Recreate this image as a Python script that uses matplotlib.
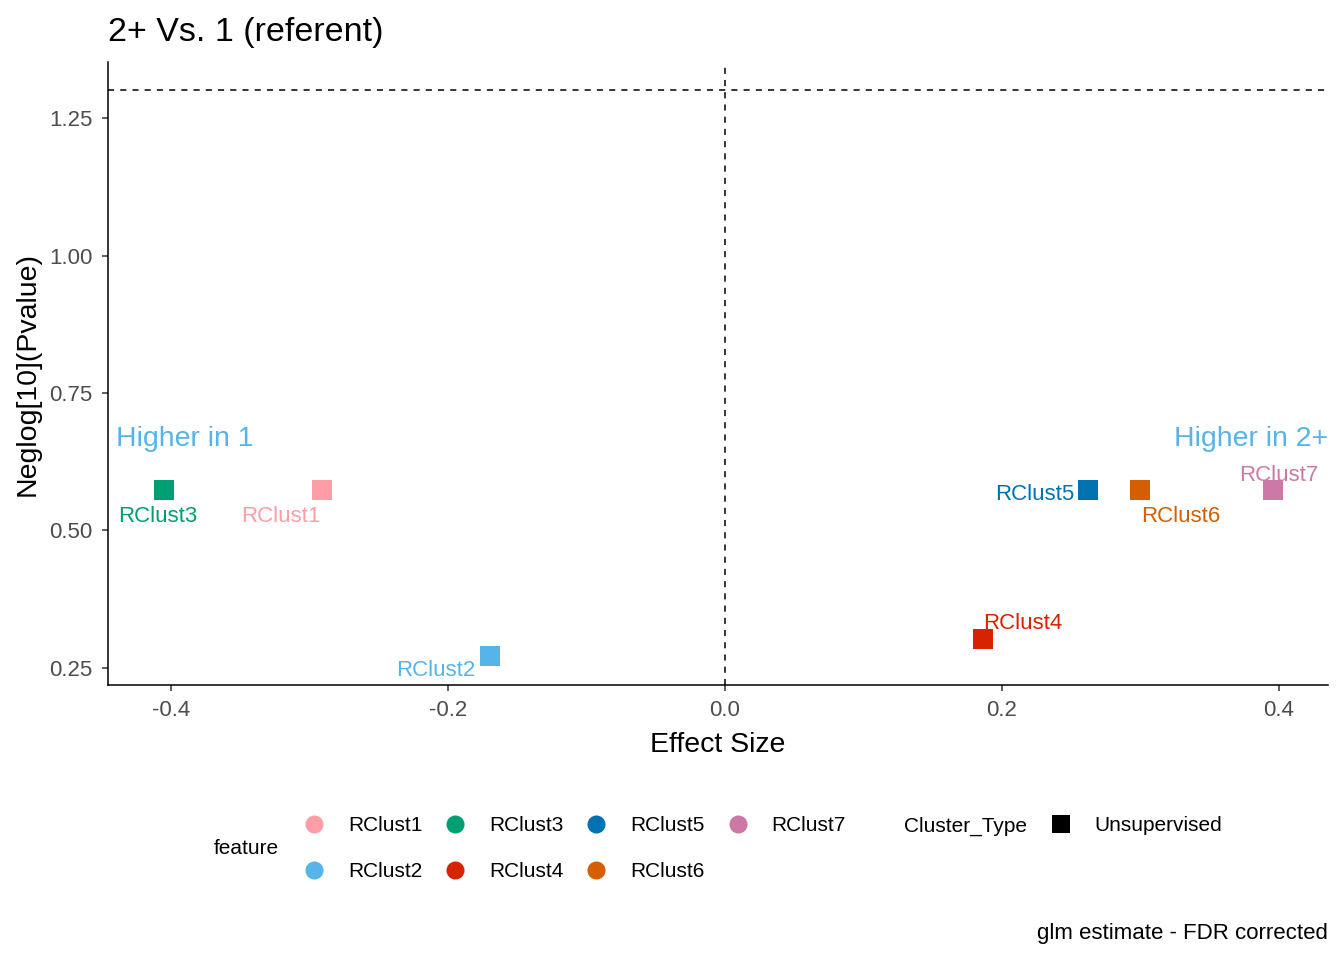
import matplotlib.pyplot as plt
from matplotlib.lines import Line2D

plt.rcParams['font.family'] = ['Liberation Sans', 'DejaVu Sans']

features = ['RClust1', 'RClust2', 'RClust3', 'RClust4', 'RClust5', 'RClust6', 'RClust7']
effect = [-0.291, -0.170, -0.405, 0.186, 0.262, 0.300, 0.396]
neglogp = [0.573, 0.272, 0.573, 0.303, 0.573, 0.573, 0.573]
colors = ['#FF9DA7', '#56B4E9', '#009E73', '#D62300', '#0072B2', '#D55E00', '#CC79A7']
# label offsets in pixels (alignment, dx, dy), like ggrepel placed them
label_pos = {
    'RClust1': ('center', -41, -26),
    'RClust2': ('right', -14, -15),
    'RClust3': ('center', -6, -26),
    'RClust4': ('left', 1, 15),
    'RClust5': ('right', -13, -4),
    'RClust6': ('left', 1, -26),
    'RClust7': ('center', 5, 15),
}
fdr_line = 1.301

W, H = 1344, 960
fig = plt.figure(figsize=(W / 100, H / 100), dpi=100)
ax = fig.add_axes([108 / W, 1 - 685 / H, 1220 / W, 623 / H])

for f, x, y, c in zip(features, effect, neglogp, colors):
    ax.scatter(x, y, marker='s', s=190, color=c, zorder=3, linewidths=0)
    ha, dx, dy = label_pos[f]
    ax.annotate(f, (x, y), xytext=(dx * 0.72, dy * 0.72), textcoords='offset points',
                ha=ha, va='center', color=c, fontsize=16)

ax.axhline(fdr_line, color='black', linestyle=(0, (4, 4)), linewidth=1.1)
ax.axvline(0, color='black', linestyle=(0, (4, 4)), linewidth=1.1)

ax.text(-0.44, 0.666, 'Higher in 1', color='#56B4E9', fontsize=20.5, ha='left', va='center')
ax.text(0.4354, 0.666, 'Higher in 2+', color='#56B4E9', fontsize=20.5, ha='right', va='center')

ax.set_xlim(-0.4455, 0.4354)
ax.set_ylim(0.219, 1.352)
ax.set_xticks([-0.4, -0.2, 0.0, 0.2, 0.4])
ax.set_xticklabels(['-0.4', '-0.2', '0.0', '0.2', '0.4'])
ax.set_yticks([0.25, 0.50, 0.75, 1.00, 1.25])
ax.set_yticklabels(['0.25', '0.50', '0.75', '1.00', '1.25'])
for s in ['top', 'right']:
    ax.spines[s].set_visible(False)
for s in ['left', 'bottom']:
    ax.spines[s].set_linewidth(1.1)
ax.tick_params(length=4, width=1.1, color='#333333', labelcolor='#4D4D4D', labelsize=16)
ax.tick_params(axis='x', pad=7)
ax.tick_params(axis='y', pad=7)

ax.set_xlabel('Effect Size', fontsize=20.5, labelpad=8)
ax.set_ylabel('Neglog[10](Pvalue)', fontsize=20.5, labelpad=6)
ax.set_title('2+ Vs. 1 (referent)', fontsize=24.5, loc='left', pad=15)

# legends
feat_handles = [Line2D([], [], marker='o', linestyle='', markersize=13, color=c, markeredgewidth=0)
                for c in colors]
leg1 = fig.legend(feat_handles, features, ncol=4, frameon=False, fontsize=15,
                  loc='upper left', bbox_to_anchor=(304 / W, 1 - 816 / H),
                  handlelength=1.0, handletextpad=1.1, columnspacing=1.1,
                  labelspacing=1.3, borderpad=0, borderaxespad=0)
fig.text(214 / W, 1 - 849 / H, 'feature', fontsize=15, ha='left', va='center')

type_handles = [Line2D([], [], marker='s', linestyle='', markersize=13, color='black', markeredgewidth=0)]
leg2 = fig.legend(type_handles, ['Unsupervised'], frameon=False, fontsize=15,
                  loc='upper left', bbox_to_anchor=(1051 / W, 1 - 816 / H),
                  handlelength=1.0, handletextpad=1.1, borderpad=0, borderaxespad=0)
fig.text(904 / W, 1 - 826 / H, 'Cluster_Type', fontsize=15, ha='left', va='center')

fig.text(1328 / W, 1 - 933 / H, 'glm estimate - FDR corrected', fontsize=16, ha='right', va='center')

fig.savefig('out.png', dpi=100)
